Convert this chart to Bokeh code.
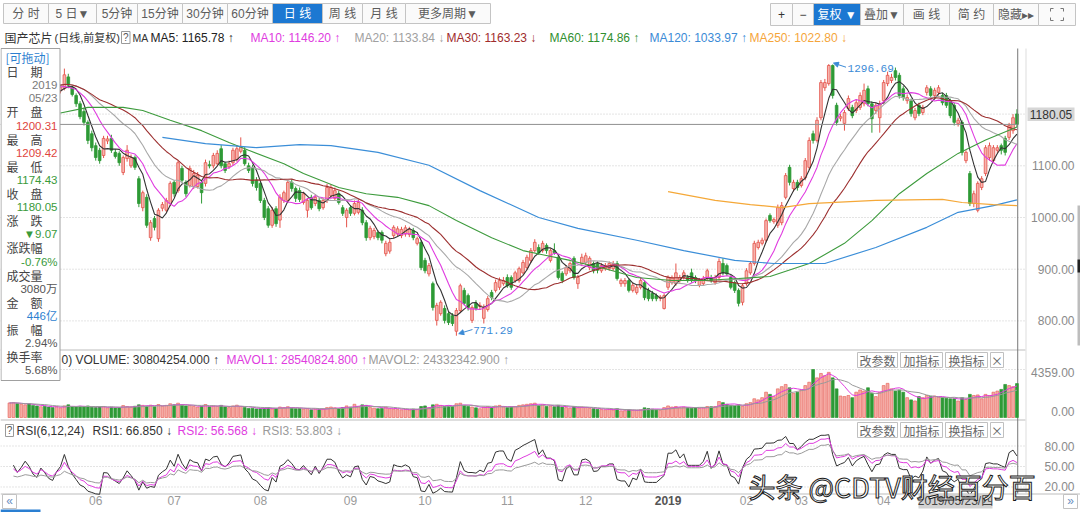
import numpy as np
import pandas as pd
from bokeh.plotting import figure
from bokeh.models import Range1d, Arrow, NormalHead, Text
from bokeh.core.properties import value
from bokeh.embed import file_html
from bokeh.resources import INLINE

# ---------------- data ----------------
month_labels = ["06", "07", "08", "09", "10", "11", "12", "2019", "02", "03", "04"]
month_days = [22, 20, 22, 23, 19, 21, 20, 21, 20, 14, 21, 21, 14]  # trading days, 2018-05 .. 2019-05

opens = [
    1255, 1262, 1270, 1258, 1265, 1275, 1268, 1255, 1248, 1260,
    1252, 1240, 1235, 1245, 1250, 1272, 1252, 1236, 1220, 1205,
    1184, 1162, 1139, 1130, 1120, 1148, 1153, 1126, 1124, 1087,
    1114, 1100, 1116, 1075, 1019, 1039, 961, 998, 959, 1018,
    1014, 1027, 1068, 1052, 1095, 1068, 1062, 1060, 1060, 1068,
    1066, 1102, 1100, 1104, 1133, 1104, 1098, 1106, 1112, 1128,
    1130, 1100, 1097, 1072, 1066, 1033, 1017, 985, 1017, 995,
    1033, 1033, 1068, 1056, 1052, 1029, 1014, 1039, 1027, 1033,
    1019, 1033, 1042, 1037, 1046, 1019, 1000, 1019, 1008, 1010,
    1014, 990, 961, 963, 971, 971, 930, 935, 965, 968,
    965, 968, 967, 975, 950, 952, 917, 891, 872, 801,
    814, 824, 814, 810, 780, 820, 859, 849, 801, 834,
    828, 805, 822, 855, 859, 865, 872, 884, 884, 878,
    878, 893, 903, 917, 936, 942, 936, 946, 917, 936,
    923, 892, 891, 897, 921, 872, 911, 913, 903, 911,
    911, 897, 901, 901, 901, 911, 872, 872, 878, 859,
    855, 865, 874, 859, 853, 849, 844, 824, 865, 874,
    872, 878, 884, 884, 893, 884, 869, 872, 882, 884,
    874, 884, 911, 907, 884, 874, 859, 836, 872, 893,
    911, 942, 950, 956, 1004, 992, 985, 990, 1039, 1097,
    1056, 1068, 1062, 1077, 1097, 1162, 1149, 1193, 1251, 1259,
    1294, 1217, 1192, 1182, 1211, 1213, 1207, 1213, 1220, 1249,
    1220, 1207, 1193, 1226, 1259, 1265, 1284, 1275, 1249, 1226,
    1226, 1193, 1217, 1203, 1242, 1249, 1236, 1242, 1236, 1236,
    1226, 1217, 1182, 1184, 1110, 1085, 1027, 1014, 1058, 1085,
    1116, 1110, 1130, 1139, 1153, 1155, 1168, 1200.31]

highs = [
    1268, 1276, 1273, 1270, 1282, 1279, 1270, 1258, 1264, 1262,
    1255, 1244, 1250, 1256, 1288, 1278, 1255, 1240, 1225, 1212,
    1188, 1168, 1145, 1135, 1158, 1158, 1160, 1132, 1128, 1120,
    1140, 1122, 1120, 1080, 1052, 1045, 995, 1003, 1018, 1030,
    1038, 1070, 1072, 1110, 1100, 1072, 1100, 1092, 1088, 1072,
    1112, 1110, 1125, 1130, 1140, 1108, 1110, 1135, 1140, 1155,
    1136, 1106, 1102, 1078, 1070, 1038, 1022, 1020, 1022, 1045,
    1052, 1072, 1074, 1060, 1058, 1050, 1038, 1044, 1045, 1038,
    1038, 1065, 1064, 1058, 1052, 1024, 1018, 1024, 1033, 1035,
    1020, 995, 984, 980, 975, 975, 955, 958, 985, 983,
    982, 985, 982, 980, 963, 956, 922, 912, 876, 835,
    840, 830, 818, 815, 825, 872, 864, 853, 830, 840,
    836, 832, 848, 860, 880, 884, 885, 890, 888, 897,
    905, 918, 928, 941, 958, 948, 955, 950, 940, 950,
    928, 896, 908, 915, 925, 889, 930, 932, 925, 915,
    915, 912, 912, 915, 916, 916, 882, 883, 882, 874,
    870, 883, 878, 864, 858, 853, 850, 853, 888, 888,
    911, 889, 898, 889, 901, 888, 883, 887, 901, 889,
    889, 921, 921, 911, 888, 878, 863, 872, 902, 915,
    955, 957, 961, 998, 1008, 1000, 1025, 1030, 1086, 1102,
    1073, 1073, 1080, 1115, 1155, 1168, 1194, 1266, 1268, 1296.69,
    1296, 1222, 1200, 1208, 1236, 1218, 1228, 1242, 1259, 1255,
    1225, 1222, 1226, 1266, 1282, 1278, 1290, 1280, 1254, 1238,
    1230, 1212, 1222, 1218, 1256, 1254, 1251, 1256, 1241, 1241,
    1230, 1222, 1193, 1188, 1130, 1090, 1052, 1070, 1080, 1140,
    1145, 1140, 1140, 1143, 1158, 1183, 1200, 1209.42]

lows = [
    1250, 1258, 1252, 1254, 1262, 1263, 1250, 1242, 1245, 1248,
    1236, 1230, 1232, 1240, 1246, 1250, 1234, 1214, 1190, 1178,
    1142, 1128, 1110, 1104, 1115, 1142, 1125, 1114, 1100, 1082,
    1108, 1096, 1092, 1020, 1012, 980, 955, 975, 953, 1012,
    1010, 1022, 1040, 1048, 1068, 1040, 1058, 1055, 1056, 1027,
    1060, 1095, 1095, 1100, 1095, 1086, 1094, 1100, 1108, 1124,
    1100, 1086, 1060, 1052, 1028, 995, 980, 980, 982, 980,
    1028, 1028, 1050, 1030, 1030, 1025, 1000, 1015, 1022, 1012,
    1015, 1028, 1038, 1033, 1025, 1003, 981, 1003, 1004, 1006,
    985, 955, 956, 958, 956, 950, 925, 930, 960, 963,
    960, 963, 962, 956, 946, 898, 892, 886, 820, 791,
    810, 795, 792, 790, 771.29, 815, 830, 820, 796, 820,
    822, 795, 818, 840, 855, 860, 868, 864, 860, 874,
    874, 890, 898, 912, 932, 928, 932, 930, 913, 928,
    880, 873, 887, 893, 880, 862, 906, 908, 898, 892,
    892, 893, 897, 897, 897, 878, 866, 866, 855, 855,
    851, 861, 840, 838, 838, 838, 838, 822, 860, 870,
    868, 874, 880, 874, 874, 873, 865, 868, 878, 874,
    870, 880, 888, 887, 861, 854, 828, 830, 868, 889,
    907, 938, 946, 952, 990, 988, 980, 985, 1035, 1062,
    1050, 1052, 1058, 1072, 1092, 1143, 1145, 1188, 1245, 1255,
    1230, 1178, 1186, 1168, 1206, 1192, 1202, 1208, 1215, 1215,
    1164, 1200, 1164, 1220, 1254, 1260, 1265, 1230, 1226, 1220,
    1195, 1188, 1196, 1198, 1236, 1230, 1230, 1236, 1217, 1212,
    1192, 1178, 1176, 1120, 1105, 1022, 1020, 1010, 1053, 1080,
    1110, 1105, 1124, 1122, 1120, 1150, 1162, 1174.43]

closes = [
    1262, 1270, 1258, 1265, 1275, 1268, 1255, 1248, 1260, 1252,
    1240, 1235, 1245, 1252, 1276, 1256, 1238, 1220, 1195, 1184,
    1149, 1135, 1116, 1110, 1153, 1152, 1130, 1118, 1106, 1116,
    1130, 1116, 1097, 1027, 1048, 985, 990, 981, 1014, 1025,
    1033, 1066, 1046, 1106, 1072, 1046, 1095, 1085, 1082, 1048,
    1106, 1100, 1120, 1124, 1100, 1091, 1104, 1130, 1133, 1136,
    1104, 1091, 1066, 1058, 1033, 1000, 985, 1014, 988, 1039,
    1048, 1068, 1056, 1037, 1035, 1046, 1033, 1019, 1039, 1017,
    1033, 1058, 1058, 1052, 1029, 1008, 1014, 1008, 1027, 1029,
    990, 961, 979, 975, 961, 956, 950, 952, 981, 978,
    977, 980, 977, 961, 959, 903, 897, 907, 826, 830,
    836, 801, 797, 795, 820, 868, 834, 826, 826, 824,
    830, 826, 843, 845, 874, 878, 878, 868, 865, 893,
    901, 913, 923, 936, 952, 932, 950, 936, 936, 932,
    884, 878, 903, 911, 884, 884, 923, 926, 921, 897,
    898, 907, 907, 911, 911, 882, 878, 878, 859, 869,
    865, 878, 845, 843, 843, 843, 846, 849, 884, 884,
    893, 884, 893, 878, 878, 878, 878, 882, 897, 878,
    884, 915, 893, 891, 865, 859, 834, 868, 897, 911,
    950, 952, 956, 994, 994, 996, 1019, 1023, 1081, 1068,
    1068, 1058, 1075, 1110, 1149, 1149, 1188, 1261, 1261, 1294,
    1236, 1184, 1195, 1203, 1230, 1197, 1222, 1236, 1246, 1220,
    1191, 1217, 1220, 1261, 1275, 1271, 1271, 1236, 1232, 1232,
    1201, 1207, 1201, 1213, 1251, 1236, 1246, 1251, 1222, 1217,
    1197, 1184, 1188, 1126, 1126, 1027, 1046, 1066, 1075, 1135,
    1139, 1135, 1135, 1130, 1126, 1178, 1193, 1180.05]

# volume in 万 (10k shares)
volumes = [
    1320, 1350, 1280, 1200, 1150, 1250, 1100, 1050, 980, 1020,
    950, 900, 1000, 880, 1050, 1150, 1000, 950, 1020, 980,
    1050, 930, 900, 960, 1000, 880, 940, 870, 900, 1080,
    1000, 950, 1020, 1150, 1100, 1050, 1120, 980, 1180, 1020,
    1100, 1250, 1150, 1300, 1100, 1050, 1080, 1000, 950, 1020,
    1180, 980, 1050, 1000, 1100, 950, 900, 1050, 1120, 1000,
    900, 820, 850, 780, 800, 850, 900, 780, 820, 950,
    900, 980, 850, 800, 820, 760, 820, 700, 760, 720,
    780, 900, 950, 880, 820, 900, 1050, 950, 1200, 1000,
    1150, 1100, 900, 850, 800, 820, 950, 800, 760, 720,
    700, 740, 680, 760, 720, 1000, 1050, 880, 1150, 1200,
    1100, 1000, 1050, 1000, 1250, 1300, 1100, 1000, 950, 880,
    800, 950, 1000, 900, 1050, 1100, 980, 900, 950, 1000,
    1100, 1150, 1200, 1250, 1300, 1100, 1150, 1000, 1050, 980,
    1100, 950, 900, 850, 1000, 880, 950, 900, 820, 800,
    750, 720, 700, 760, 680, 800, 600, 620, 700, 640,
    650, 700, 880, 820, 760, 700, 650, 900, 1050, 950,
    1000, 900, 950, 900, 850, 880, 820, 900, 1000, 980,
    1000, 1450, 1350, 1200, 1100, 1050, 1150, 1000, 1250, 1350,
    1700, 1600, 1800, 2300, 2100, 1900, 2600, 2800, 3000, 2700,
    2200, 2300, 2500, 2900, 3200, 4359, 3600, 4000, 3800, 4100,
    3600, 2600, 1950, 1900, 2000, 1800, 2300, 2500, 2400, 2700,
    2200, 1900, 2300, 2900, 3100, 2600, 2400, 2500, 2300, 1800,
    1600, 1500, 1900, 1800, 2000, 1900, 1950, 1850, 1800, 1750,
    1700, 1700, 1500, 1800, 1650, 2100, 2000, 2050, 1700, 2100,
    2000, 2300, 2400, 2550, 3000, 2900, 2800, 3080]

# long moving averages (day index, value)
ma60_day = [13, 20, 29, 34, 41, 49, 56, 61, 70, 75, 84, 91, 99, 107, 114, 123, 131, 136, 143,
            152, 160, 169, 177, 186, 194, 204, 213, 220, 227, 234, 242, 249, 257]
ma60_val = [1202, 1213, 1213, 1207, 1188, 1168, 1145, 1130, 1104, 1085, 1058, 1046, 1039, 1023,
            994, 961, 936, 928, 917, 901, 884, 878, 878, 882, 886, 911, 950, 994, 1046, 1085,
            1124, 1150, 1174.86]
ma120_day = [39, 50, 63, 74, 82, 94, 107, 120, 135, 145, 160, 172, 185, 195, 208, 221, 234, 242, 251, 257]
ma120_val = [1155, 1143, 1135, 1141, 1139, 1126, 1101, 1052, 1000, 979, 956, 936, 917, 911, 911,
             942, 981, 1010, 1023, 1033.97]
ma250_day = [168, 180, 189, 197, 204, 221, 238, 243, 251, 257]
ma250_val = [1050, 1033, 1025, 1019, 1027, 1033, 1035, 1029, 1025, 1022.80]

price_ticks = [800, 900, 1000, 1100, 1200]
price_tick_labels = ["800.00", "900.00", "1000.00", "1100.00"]
vol_max = 4359
rsi_levels = [20, 50, 80]

ma_legend = [("MA5: 1165.78 ↑", "#222222"), ("MA10: 1146.20 ↑", "#e03ce0"),
             ("MA20: 1133.84 ↓", "#a0a0a0"), ("MA30: 1163.23 ↓", "#a02c2c"),
             ("MA60: 1174.86 ↑", "#2f8f2f"), ("MA120: 1033.97 ↑", "#3a8ad6"),
             ("MA250: 1022.80 ↓", "#f5a53a")]
vol_legend = [("VOLUME: 30804254.000 ↑", "#333333"), ("MAVOL1: 28540824.800 ↑", "#e03ce0"),
              ("MAVOL2: 24332342.900 ↑", "#9a9a9a")]
rsi_legend = [("RSI1: 66.850 ↓", "#333333"), ("RSI2: 56.568 ↓", "#e03ce0"),
              ("RSI3: 53.803 ↓", "#9a9a9a")]
info_rows = ["[可拖动]", "日　期", "2019", "05/23", "开　盘", "1200.31", "最　高", "1209.42",
             "最　低", "1174.43", "收　盘", "1180.05", "涨　跌", "▼9.07", "涨跌幅", "-0.76%",
             "成交量", "3080万", "金　额", "446亿", "振　幅", "2.94%", "换手率", "5.68%"]
info_colors = ["#2d7fd0", "#444444", "#7a7a7a", "#7a7a7a", "#444444", "#e0443c", "#444444", "#e0443c",
               "#444444", "#3a9a3a", "#444444", "#3a9a3a", "#444444", "#3a9a3a", "#444444", "#3a9a3a",
               "#444444", "#555555", "#444444", "#2d7fd0", "#444444", "#555555", "#444444", "#555555"]

# ---------------- derived ----------------
N = min(len(opens), len(highs), len(lows), len(closes), len(volumes))
o = np.array(opens[:N], float)
h = np.array(highs[:N], float)
l = np.array(lows[:N], float)
c = np.array(closes[:N], float)
v = np.array(volumes[:N], float)
idx = np.arange(N)
up = c >= o

cs = pd.Series(c)
ma5 = cs.rolling(5, min_periods=1).mean().values
ma10 = cs.rolling(10, min_periods=1).mean().values
ma20 = cs.rolling(20, min_periods=1).mean().values
ma30 = cs.rolling(30, min_periods=1).mean().values
vs = pd.Series(v)
mavol1 = vs.rolling(5, min_periods=1).mean().values
mavol2 = vs.rolling(10, min_periods=1).mean().values


def rsi_cn(close, n):
    d = np.diff(close, prepend=close[0])
    upm = np.maximum(d, 0.0)
    ab = np.abs(d)
    su = upm[1:n + 1].mean()
    sa = ab[1:n + 1].mean()
    out = np.full(len(close), np.nan)
    for k in range(1, len(close)):
        su = (upm[k] + (n - 1) * su) / n
        sa = (ab[k] + (n - 1) * sa) / n
        out[k] = su / sa * 100 if sa > 0 else 50
    return out


rsi1 = rsi_cn(c, 6)
rsi2 = rsi_cn(c, 12)
rsi3 = rsi_cn(c, 24)

month_start = list(np.cumsum(month_days)[:len(month_labels)])

# ---------------- figure / scales ----------------
W, H = 1080, 512
X0, DX = 9.0, 3.92           # day -> pixel
PY0, PK = 217.0, 0.517       # price 1000 at y=217, px per point
VY0, VK = 417.0, 48.0 / vol_max
RY0, RK = 466.0, 0.683       # rsi 50 at y=466

p = figure(width=W, height=H, x_range=Range1d(0, W), y_range=Range1d(H, 0),
           min_border=0, x_axis_location=None, y_axis_location=None,
           toolbar_location=None, output_backend="svg", outline_line_color=None,
           background_fill_color="white", border_fill_color="white")
p.xgrid.visible = False
p.ygrid.visible = False
p.extra_x_ranges = {"day": Range1d(-X0 / DX, (W - X0) / DX)}
p.extra_y_ranges = {
    "price": Range1d(1000 - (H - PY0) / PK, 1000 + PY0 / PK),
    "vol": Range1d(-(H - VY0) / VK, VY0 / VK),
    "rsi": Range1d(50 - (H - RY0) / RK, 50 + RY0 / RK),
}

MIX = "Liberation Sans, Noto Sans CJK SC"
CJK = "Noto Sans CJK SC"
LAT = "Liberation Sans"


def T(xs, ys, ts, color="#333333", size=12, font=MIX, align="left", baseline="middle",
      bold=False, xr=None, yr=None, **kw):
    args = dict(x=list(xs), y=list(ys), text=list(ts), text_color=color,
                text_font_size=f"{size}px", text_font=value(font), text_align=align,
                text_baseline=baseline, text_font_style="bold" if bold else "normal")
    if xr:
        args["x_range_name"] = xr
    if yr:
        args["y_range_name"] = yr
    args.update(kw)
    return p.text(**args)


UP_FILL, UP_LINE, DN = "#f6b4ae", "#e5544b", "#2e9a36"

# grid lines
p.segment(x0=[0] * len(price_ticks), x1=[1025] * len(price_ticks), y0=price_ticks, y1=price_ticks,
          y_range_name="price", line_color="#c9c9c9", line_dash="1 2", line_width=1)
p.segment(x0=[0], x1=[1025], y0=[vol_max], y1=[vol_max], y_range_name="vol",
          line_color="#c9c9c9", line_dash="1 2")
p.segment(x0=[0] * 3, x1=[1025] * 3, y0=rsi_levels, y1=rsi_levels, y_range_name="rsi",
          line_color="#c9c9c9", line_dash="1 2")

# panel separators
p.segment(x0=[0, 0, 0], x1=[1025, 1025, 1080], y0=[349.5, 419.5, 493.5], y1=[349.5, 419.5, 493.5],
          line_color="#bdbdbd", line_width=1)
p.segment(x0=[1025.5], x1=[1025.5], y0=[48], y1=[493], line_color="#dddddd")

# candles
wick_col = np.where(up, UP_LINE, DN)
body_fill = np.where(up, UP_FILL, DN)
p.segment(x0=idx, x1=idx, y0=l, y1=h, line_color=list(wick_col), line_width=1,
          x_range_name="day", y_range_name="price")
p.vbar(x=idx, width=0.68, top=np.maximum(o, c), bottom=np.minimum(o, c),
       fill_color=list(body_fill), line_color=list(wick_col), line_width=0.8,
       x_range_name="day", y_range_name="price")

# moving averages
for arr, col in [(ma5, "#333333"), (ma10, "#e03ce0"), (ma20, "#a8a8a8"), (ma30, "#9c2f2f")]:
    p.line(idx, arr, line_color=col, line_width=1.1, x_range_name="day", y_range_name="price")
p.line(ma60_day, ma60_val, line_color="#3d9b3d", line_width=1.1, x_range_name="day", y_range_name="price")
p.line(ma120_day, ma120_val, line_color="#3b8ed8", line_width=1.2, x_range_name="day", y_range_name="price")
p.line(ma250_day, ma250_val, line_color="#f5a838", line_width=1.2, x_range_name="day", y_range_name="price")

# last close line + crosshair
p.segment(x0=[-2.3], x1=[N - 1], y0=[c[-1]], y1=[c[-1]], line_color="#8f8f8f", line_width=1,
          x_range_name="day", y_range_name="price")
p.segment(x0=[N - 1 + 0.2], x1=[N - 1 + 0.2], y0=[48], y1=[493], line_color="#777777", line_width=1,
          x_range_name="day")

# high / low marks
BLUE = "#3b8ad6"
ihi = int(np.argmax(h))
ilo = int(np.argmin(l))
p.add_layout(Arrow(end=NormalHead(size=5, fill_color=BLUE, line_color=BLUE),
                   x_start=ihi + 4.4, y_start=h[ihi] - 6, x_end=ihi + 1.2, y_end=h[ihi] + 2,
                   x_range_name="day", y_range_name="price", line_color=BLUE, line_width=1))
p.add_layout(Arrow(end=NormalHead(size=5, fill_color=BLUE, line_color=BLUE),
                   x_start=ilo + 4.1, y_start=l[ilo] + 12, x_end=ilo + 0.6, y_end=l[ilo] + 4,
                   x_range_name="day", y_range_name="price", line_color=BLUE, line_width=1))
T([ihi + 4.8], [h[ihi] - 9], [f"{h[ihi]:.2f}"], color=BLUE, size=11, font="Liberation Mono",
  xr="day", yr="price")
T([ilo + 4.3], [l[ilo] + 10], [f"{l[ilo]:.2f}"], color=BLUE, size=11, font="Liberation Mono",
  xr="day", yr="price")

# volume
p.vbar(x=idx, width=0.72, top=v, bottom=0, fill_color=list(np.where(up, "#f5aaa4", DN)),
       line_color=list(np.where(up, "#e86a62", DN)), line_width=0.7,
       x_range_name="day", y_range_name="vol")
p.line(idx, mavol1, line_color="#e03ce0", line_width=1, x_range_name="day", y_range_name="vol")
p.line(idx, mavol2, line_color="#9a9a9a", line_width=1, x_range_name="day", y_range_name="vol")

# RSI
p.line(idx, rsi1, line_color="#333333", line_width=1, x_range_name="day", y_range_name="rsi")
p.line(idx, rsi2, line_color="#e03ce0", line_width=1, x_range_name="day", y_range_name="rsi")
p.line(idx, rsi3, line_color="#9a9a9a", line_width=1, x_range_name="day", y_range_name="rsi")

# right axis labels
T([1074] * len(price_tick_labels), price_ticks[:len(price_tick_labels)], price_tick_labels,
  color="#8a8a8a", size=12, font=LAT, align="right", yr="price")
p.quad(left=[1027], right=[1074], top=[107], bottom=[120.5], fill_color="#d6d6d6", line_color=None)
T([1050.5], [114], [f"{c[-1]:.2f}"], color="#333333", size=12, font=LAT, align="center")
T([1074, 1074], [372, 411], [f"{vol_max:.2f}", "0.00"], color="#8a8a8a", size=12, font=LAT, align="right")
T([1074] * 3, rsi_levels[::-1], [f"{x:.2f}" for x in rsi_levels[::-1]], color="#8a8a8a", size=12,
  font=LAT, align="right", yr="rsi")

# scrollbar hint on the far right
p.quad(left=[1077], right=[1080], top=[205], bottom=[345], fill_color="#bdbdbd", line_color=None)
p.quad(left=[1077], right=[1080], top=[259], bottom=[272], fill_color="#222222", line_color=None)

# x axis labels
reg = [i for i, s in enumerate(month_labels) if s != "2019"]
T([month_start[i] for i in reg], [500] * len(reg), [month_labels[i] for i in reg],
  color="#9a9a9a", size=12, font=LAT, align="center", xr="day")
yi = month_labels.index("2019")
T([month_start[yi]], [500], ["2019"], color="#555555", size=12, font=LAT, align="center",
  bold=True, xr="day")
p.quad(left=[918], right=[992], top=[493], bottom=[508], fill_color="#d2d2d2", line_color=None)
T([955], [500.5], ["2019/05/23/四"], color="#444444", size=12, font=MIX, align="center")
p.quad(left=[2, 1063], right=[16, 1077], top=[494, 494], bottom=[508, 508], fill_color="white",
       line_color="#c2c2c2")
T([9, 1070], [500.5, 500.5], ["«", "»"], color="#6a8fc0", size=12, font=LAT, align="center")
p.quad(left=[0], right=[40], top=[509], bottom=[512], fill_color="#2a7fd2", line_color=None)

# panel headers
p.quad(left=[5], right=[13], top=[424], bottom=[436], fill_color="white", line_color="#9a9a9a")
T([9], [430], ["?"], color="#555555", size=10, font=LAT, align="center")
T([16], [430], ["RSI(6,12,24)"], color="#333333", size=12, font=LAT)
for (s, col), x in zip(rsi_legend, [92, 177, 262]):
    T([x], [430], [s], color=col, size=12, font=LAT)
T([61], [359], ["0)"], color="#333333", size=12, font=LAT)
for (s, col), x in zip(vol_legend, [75, 226, 368]):
    T([x], [359], [s], color=col, size=12, font=LAT)
for ytop in (352, 422):
    p.quad(left=[857, 900, 945, 990], right=[897, 942, 987, 1003], top=[ytop] * 4,
           bottom=[ytop + 15] * 4, fill_color="white", line_color="#c0c0c0")
    T([877, 921, 966, 996.5], [ytop + 7.5] * 4, ["改参数", "加指标", "换指标", "×"], color="#666666",
      size=12, font=CJK, align="center")

# info panel (covers the left part of the price chart)
p.quad(left=[0.5], right=[59.5], top=[48], bottom=[380], fill_color="white", line_color="#a0a0a0")
for k, (s, col) in enumerate(zip(info_rows, info_colors)):
    yy = 57 + k * 13.6
    is_val = (k >= 2 and k % 2 == 1) or k in (2, 3)
    if k == 0:
        T([5], [yy], [s], color=col, size=12, font=CJK)
    elif is_val:
        T([57], [yy], [s], color=col, size=11.5, font=MIX, align="right")
    else:
        T([6], [yy], [s], color=col, size=12, font=CJK)

# top toolbar
tb_labels = ["分 时", "5 日▼", "5分钟", "15分钟", "30分钟", "60分钟", "日 线", "周 线", "月 线", "更多周期▼"]
tb_edges = [3, 48, 96, 137, 182, 227, 272, 322, 362, 405, 490]
tb_sel = 6
p.quad(left=tb_edges[:-1], right=tb_edges[1:], top=[3] * len(tb_labels), bottom=[23] * len(tb_labels),
       fill_color=["#1c78d2" if i == tb_sel else "#fafafa" for i in range(len(tb_labels))],
       line_color="#c4c4c4")
T([(tb_edges[i] + tb_edges[i + 1]) / 2 for i in range(len(tb_labels))], [13] * len(tb_labels), tb_labels,
  color=["white" if i == tb_sel else "#5c5c5c" for i in range(len(tb_labels))], size=12,
  font=MIX, align="center")

rb_labels = ["+", "−", "复权 ▼", "叠加▼", "画 线", "简 约", "隐藏▸▸"]
rb_edges = [770, 792, 813, 860, 903, 949, 993, 1038, 1075]
rb_sel = 2
nb = len(rb_edges) - 1
p.quad(left=rb_edges[:-1], right=rb_edges[1:], top=[3] * nb, bottom=[25] * nb,
       fill_color=["#1c78d2" if i == rb_sel else "#fafafa" for i in range(nb)], line_color="#c4c4c4")
T([(rb_edges[i] + rb_edges[i + 1]) / 2 for i in range(len(rb_labels))], [14] * len(rb_labels), rb_labels,
  color=["white" if i == rb_sel else ("#333333" if i < 2 else "#5c5c5c") for i in range(len(rb_labels))],
  size=12, font=MIX, align="center")
# full-screen icon corners
cx0, cx1, cy0, cy1 = 1050, 1063, 8, 20
p.multi_line(xs=[[cx0, cx0, cx0 + 3], [cx1 - 3, cx1, cx1], [cx0, cx0, cx0 + 3], [cx1 - 3, cx1, cx1]],
             ys=[[cy0 + 3, cy0, cy0], [cy0, cy0, cy0 + 3], [cy1 - 3, cy1, cy1], [cy1, cy1, cy1 - 3]],
             line_color="#777777", line_width=1)

# MA legend row
T([4], [37], ["国产芯片"], color="#333333", size=12, font=CJK)
T([54], [37], ["(日线,前复权)"], color="#333333", size=11, font=MIX)
p.quad(left=[121], right=[129.5], top=[31], bottom=[43], fill_color="white", line_color="#9a9a9a")
T([125.3], [37], ["?"], color="#555555", size=10, font=LAT, align="center")
T([132], [37], ["MA"], color="#333333", size=10.5, font=LAT)
for (s, col), x in zip(ma_legend, [150, 250, 354, 446, 549, 649, 749]):
    T([x], [37], [s], color=col, size=12, font=LAT)

# watermark
extra = {}
wm_color = "white"
if "text_outline_color" in Text.properties():
    extra["text_outline_color"] = "#1a1a1a"
else:
    wm_color = "#333333"
T([748], [486], ["头条 @CDTV财经百分百"], color=wm_color, size=27, font=CJK, **extra)

with open("out.html", "w", encoding="utf-8") as f:
    f.write(file_html(p, INLINE))
